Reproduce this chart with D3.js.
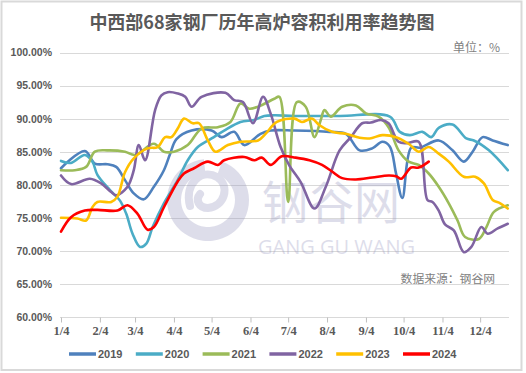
<!DOCTYPE html>
<html><head><meta charset="utf-8">
<script src="https://cdn.jsdelivr.net/npm/d3@7"></script>
<style>html,body{margin:0;padding:0;background:#fff;}svg{display:block;}</style>
</head><body>
<svg id="chart" width="526" height="373"></svg>
<script>
const title = "中西部68家钢厂历年高炉容积利用率趋势图";
const unitLabel = "单位：%";
const sourceLabel = "数据来源：钢谷网";
const seriesNames = ["2019","2020","2021","2022","2023","2024"];
const seriesColors = ["#4F81BD","#4BACC6","#9BBB59","#8064A2","#FFC000","#FF0000"];
const yTicks = [60,65,70,75,80,85,90,95,100];
const xTickMonths = [1,2,3,4,5,6,7,8,9,10,11,12];

const dates2019 = ["01-04","01-23","01-31","02-10","02-17","02-24","03-03","03-11","03-19","03-27","04-01","04-06","04-18","05-04","05-12","05-22","05-30","06-12","06-20","07-09","08-06","08-19","08-30","09-09","09-17","09-23","09-28","10-03","10-10","10-17","11-01","11-12","11-21","11-28","12-06","12-14","12-26"];
const values2019 = [82.5,85.1,83.2,83.1,82.7,80.7,78.7,77.8,79.7,82.2,84.7,86.9,88.2,88.2,87.2,88.0,86.0,87.7,88.2,88.2,88.0,87.7,85.2,85.5,86.5,85.8,81.7,78.0,85.6,85.6,86.7,85.2,83.5,85.0,87.2,86.7,86.0];

const dates2020 = ["01-04","01-12","01-23","01-29","02-02","02-12","02-20","02-25","03-02","03-08","03-13","03-18","03-27","04-07","04-15","04-23","05-04","05-14","05-27","06-07","06-15","06-23","07-09","08-14","09-23","10-01","10-09","10-19","10-26","11-01","11-12","11-23","11-29","12-11","12-26"];
const values2020 = [83.6,83.3,84.5,83.5,81.5,79.2,77.6,75.6,72.6,70.6,71.1,73.6,77.2,80.7,83.7,85.7,87.0,88.2,89.5,89.8,90.4,90.5,90.4,90.4,90.3,88.0,87.5,88.0,87.2,88.6,89.1,87.0,86.7,85.2,82.2];

const dates2021 = ["01-04","01-15","01-24","01-31","02-10","02-24","03-04","03-19","03-27","04-04","04-15","04-26","05-09","05-19","05-27","06-03","06-10","06-23","06-27","07-04","07-11","07-18","07-25","07-30","08-02","08-07","08-16","08-27","09-04","09-14","09-22","09-30","10-08","10-16","10-24","11-01","11-09","11-16","11-22","12-03","12-09","12-15","12-26"];
const values2021 = [82.2,82.2,82.7,85.0,85.2,85.0,84.5,86.2,85.0,85.0,86.0,88.5,88.7,89.5,92.3,91.5,91.8,93.0,93.3,77.4,92.5,91.8,87.2,89.8,91.3,90.3,91.8,92.0,90.8,90.3,88.7,85.2,83.5,83.0,81.7,79.7,77.2,74.6,72.1,71.8,73.6,75.9,76.9];

const dates2022 = ["01-04","01-12","01-27","02-05","02-13","02-17","02-26","03-03","03-07","03-12","03-20","03-25","03-30","04-07","04-13","04-18","04-26","05-15","05-22","05-29","06-06","06-14","06-20","06-28","07-05","07-14","07-25","08-03","08-14","08-23","09-01","09-08","09-16","09-22","09-30","10-07","10-16","10-23","10-27","11-01","11-06","11-13","11-21","11-27","12-05","12-10","12-18","12-26"];
const values2022 = [81.4,80.1,80.9,80.2,78.9,78.4,79.7,82.2,86.0,83.7,91.3,93.5,94.0,93.8,93.3,91.8,93.3,93.9,92.8,92.5,89.3,93.3,90.8,85.7,82.9,80.4,76.4,79.7,85.2,87.2,89.3,89.4,89.8,89.3,86.5,86.3,86.5,77.7,77.4,76.1,74.0,73.1,69.8,70.6,73.6,72.6,73.4,74.1];

const dates2023 = ["01-04","01-17","01-24","01-29","02-02","02-13","02-18","02-24","03-03","03-14","03-22","03-28","04-02","04-07","04-12","04-19","04-24","05-01","05-07","05-17","05-27","06-10","06-16","06-25","07-09","07-15","07-23","07-29","08-08","08-19","08-30","09-07","09-17","09-28","10-08","10-16","10-24","11-01","11-09","11-21","11-30","12-07","12-14","12-20","12-26"];
const values2023 = [75.0,74.9,74.6,76.6,77.4,77.4,78.2,81.9,84.0,85.5,85.7,87.2,87.2,88.5,90.0,89.3,89.3,86.7,85.0,86.0,86.5,86.7,87.7,89.5,90.0,89.5,90.0,89.0,88.0,87.7,87.1,87.0,87.5,87.2,86.2,85.0,85.7,84.7,83.5,81.2,81.2,80.2,77.7,77.2,76.4];

const dates2024 = ["01-04","01-12","01-23","02-02","02-18","02-26","03-06","03-14","03-19","03-27","04-07","04-12","04-20","05-01","05-09","05-14","05-30","06-07","06-13","06-20","06-29","07-10","07-21","07-31","08-08","08-16","08-27","09-09","09-22","09-28","10-02","10-10","10-16","10-24"];
const values2024 = [72.9,75.1,76.1,76.2,76.1,76.9,75.6,73.2,73.6,76.6,80.5,81.7,82.5,83.5,83.0,83.7,84.2,83.7,84.1,83.0,84.3,84.1,83.7,83.0,82.0,81.0,80.8,81.1,81.4,81.3,80.9,82.6,82.6,83.5];

const allDates = [dates2019,dates2020,dates2021,dates2022,dates2023,dates2024];
const allValues = [values2019,values2020,values2021,values2022,values2023,values2024];

const parse = d3.timeParse("%Y-%m-%d");
const toDate = md => parse("2021-" + md);

const svg = d3.select("#chart");
const W = 526, H = 373;
const plot = {left: 61, right: 509, top: 52.5, bottom: 317};

// frame
svg.append("rect").attr("x",0).attr("y",0).attr("width",W).attr("height",H).attr("fill","#fff");
svg.append("rect").attr("x",1.5).attr("y",1.5).attr("width",520).attr("height",368.5)
  .attr("fill","#fff").attr("stroke","#d9d9d9").attr("stroke-width",2);

const x = d3.scaleTime().domain([toDate("01-04"), toDate("12-27")]).range([plot.left, plot.right]);
const y = d3.scaleLinear().domain([60,100]).range([plot.bottom, plot.top]);

// gridlines
svg.append("g").selectAll("line").data(yTicks).join("line")
  .attr("x1", plot.left - 1).attr("x2", plot.right)
  .attr("y1", d => Math.round(y(d)) + 0.5).attr("y2", d => Math.round(y(d)) + 0.5)
  .attr("stroke", "#d9d9d9").attr("stroke-width", 1);

// y axis labels
const yAxis = d3.axisLeft(y).tickValues(yTicks).tickSize(0).tickPadding(0)
  .tickFormat(d => d.toFixed(2) + "%");
const yg = svg.append("g").attr("transform", `translate(52,0)`).call(yAxis);
yg.select(".domain").remove();
yg.selectAll("text").attr("font-family","'Liberation Sans', Arial, sans-serif")
  .attr("font-weight","bold").attr("font-size","10.5px").attr("fill","#595959");

// x axis
const xAxis = d3.axisBottom(x)
  .tickValues(xTickMonths.map(m => toDate(String(m).padStart(2,"0") + "-04")))
  .tickSize(5).tickPadding(4)
  .tickFormat(d => (d.getMonth()+1) + "/4");
const xg = svg.append("g").attr("transform", `translate(0,${Math.round(y(60))+0.5})`).call(xAxis);
xg.select(".domain").attr("stroke","#d9d9d9").attr("d", `M${plot.left-1},0H${plot.right}`);
xg.selectAll(".tick line").attr("stroke","#bfbfbf");
xg.selectAll("text").attr("font-family","'Liberation Serif', 'Times New Roman', serif")
  .attr("font-weight","bold").attr("font-size","12.5px").attr("fill","#595959");

// watermark (behind the lines' colour strength, semi-transparent)
const wm = svg.append("g").attr("opacity", 0.32).attr("fill", "#9898bf").attr("stroke", "none");
wm.append("path").attr("d", d3.arc()({innerRadius: 27, outerRadius: 41, startAngle: 0.35, endAngle: 2*Math.PI - 0.1}))
  .attr("transform","translate(208,200)");
wm.append("path").attr("d", "M190,206 C184,184 201,168 217,177 C231,186 224,207 208,208 C199,208 195,200 200,194")
  .attr("fill","none").attr("stroke","#9898bf").attr("stroke-width", 8).attr("stroke-linecap","round");
wm.append("text").attr("x", 262).attr("y", 219).text("钢谷网")
  .attr("font-family","'Noto Sans CJK SC', sans-serif").attr("font-size","46px");
wm.append("text").attr("x", 258).attr("y", 254).text("GANG GU WANG")
  .attr("font-family","'Open Sans', 'Noto Sans', sans-serif").attr("font-size","20px");

// lines
const line = d3.line().x(d => x(d.date)).y(d => y(d.value)).curve(d3.curveCatmullRom.alpha(0.5));
const seriesData = seriesNames.map((name, i) => ({
  name, color: seriesColors[i],
  points: allDates[i].map((md, j) => ({date: toDate(md), value: allValues[i][j]}))
}));
svg.append("g").selectAll("path").data(seriesData).join("path")
  .attr("d", d => line(d.points)).attr("fill","none")
  .attr("stroke", d => d.color).attr("stroke-width", 2.6)
  .attr("stroke-linejoin","round").attr("stroke-linecap","round");

// title & notes
svg.append("text").attr("x", 262).attr("y", 29).attr("text-anchor","middle").text(title)
  .attr("font-family","'Noto Sans CJK SC', sans-serif").attr("font-weight","bold")
  .attr("font-size","18px").attr("fill","#595959");
svg.append("text").attr("x", 500).attr("y", 52).attr("text-anchor","end").text(unitLabel)
  .attr("font-family","'Noto Sans CJK SC', sans-serif").attr("font-size","12px").attr("fill","#7f7f7f");
svg.append("text").attr("x", 495).attr("y", 283).attr("text-anchor","end").text(sourceLabel)
  .attr("font-family","'Noto Sans CJK SC', sans-serif").attr("font-size","11.8px").attr("fill","#808080");

// legend
const lg = svg.append("g").selectAll("g").data(seriesData).join("g")
  .attr("transform", (d, i) => `translate(${69 + i*66.8},354)`);
lg.append("line").attr("x1",0).attr("x2",27).attr("y1",0).attr("y2",0)
  .attr("stroke", d => d.color).attr("stroke-width", 3.5);
lg.append("text").attr("x", 29).attr("y", 4).text(d => d.name)
  .attr("font-family","'Liberation Sans', Arial, sans-serif").attr("font-weight","bold")
  .attr("font-size","11px").attr("fill","#595959");
</script>
</body></html>
